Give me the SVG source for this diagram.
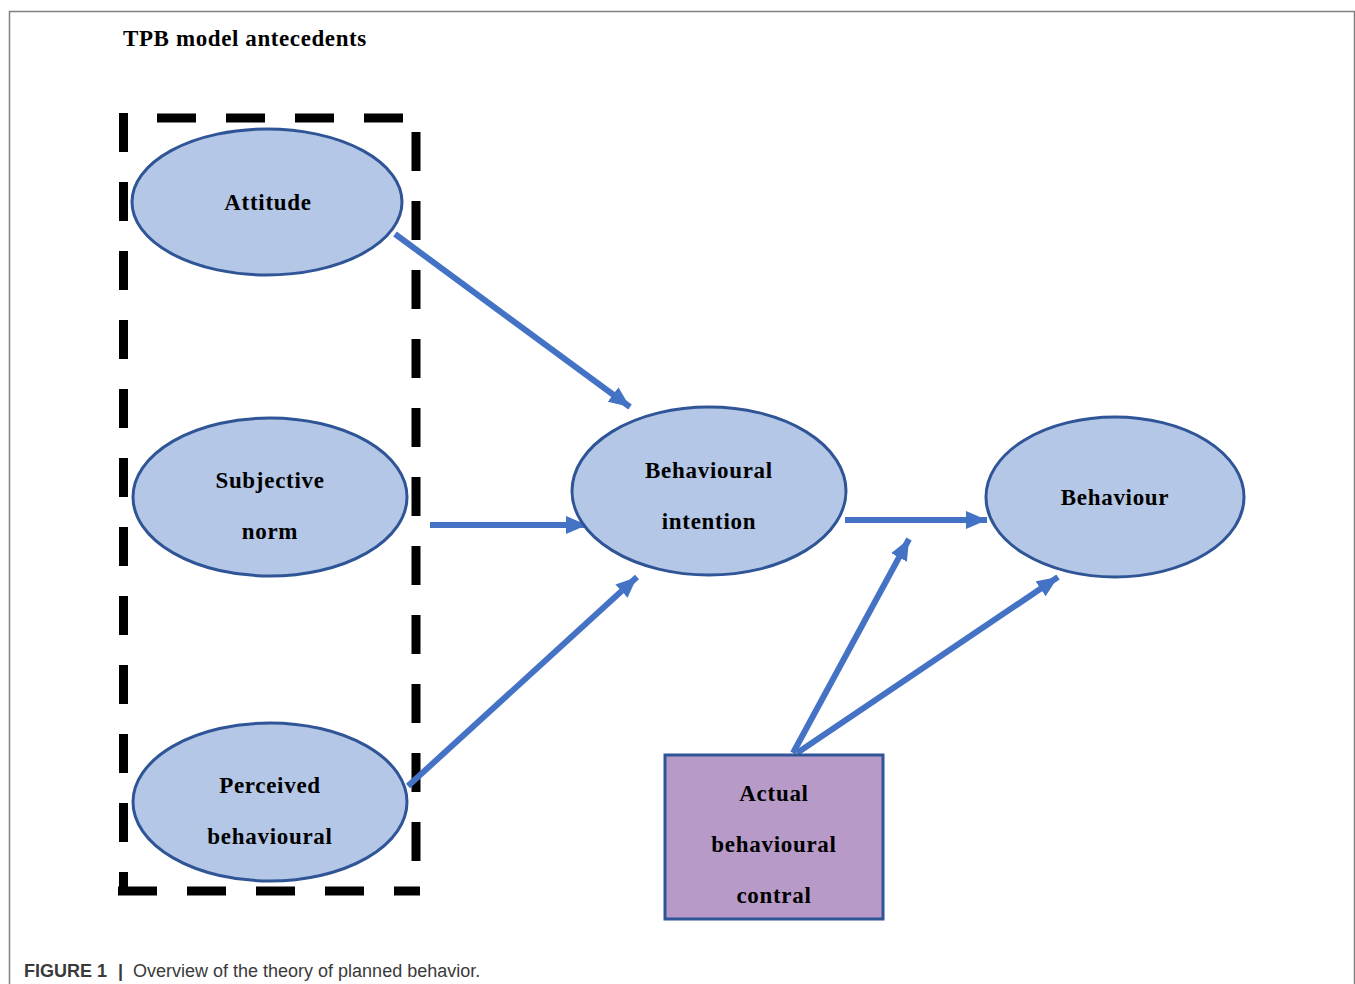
<svg xmlns="http://www.w3.org/2000/svg" width="1355" height="984" viewBox="0 0 1355 984">
<style>
.node ellipse{fill:#B4C7E7;stroke:#2F5597;stroke-width:3}
.node rect{fill:#B79AC8;stroke:#2F5597;stroke-width:3}
.lbl{font-family:"Liberation Serif","Times New Roman",serif;font-weight:bold;font-size:23px;letter-spacing:0.7px;fill:#000;text-anchor:middle}
.conn line{stroke:#4472C4;stroke-width:6;marker-end:url(#ah)}
.dash line{stroke:#000;stroke-width:9;stroke-dasharray:39 30}
.cap{font-family:"Liberation Sans",Arial,sans-serif;font-size:18px;fill:#3a3a3a}
</style>
<defs>
<marker id="ah" markerUnits="userSpaceOnUse" markerWidth="24" markerHeight="20" refX="21" refY="9" orient="auto">
<path d="M0,0 L21,9 L0,18 Z" fill="#4472C4"/>
</marker>
</defs>
<rect width="1355" height="984" fill="#fff"/>
<path d="M9.5,984 V11.5 H1354.5 V984" fill="none" stroke="#808080" stroke-width="1.5"/>
<text x="123" y="46" font-family="Liberation Serif,'Times New Roman',serif" font-weight="bold" font-size="23" letter-spacing="0.6" fill="#000">TPB model antecedents</text>
<g id="antecedent-box" class="dash">
<line x1="123.5" y1="113" x2="123.5" y2="890"/>
<line x1="157" y1="118" x2="416" y2="118"/>
<line x1="416" y1="132" x2="416" y2="890"/>
<line x1="118" y1="891" x2="420" y2="891" stroke-dasharray="24 28 40 29 40 29 40 29 43"/>
</g>
<g id="connectors" class="conn">
<line x1="395" y1="234" x2="630" y2="407"/>
<line x1="430" y1="525" x2="587" y2="525"/>
<line x1="408" y1="786" x2="637" y2="577"/>
<line x1="845" y1="520" x2="987" y2="520"/>
<line x1="793" y1="753" x2="909" y2="539"/>
<line x1="797" y1="753" x2="1058" y2="577"/>
</g>
<g id="attitude" class="node">
<ellipse cx="267" cy="202" rx="135" ry="73"/>
<text class="lbl" x="268" y="210">Attitude</text>
</g>
<g id="subjective-norm" class="node">
<ellipse cx="270" cy="497" rx="137" ry="79"/>
<text class="lbl" x="270" y="488">Subjective</text>
<text class="lbl" x="270" y="539">norm</text>
</g>
<g id="perceived-behavioural" class="node">
<ellipse cx="270" cy="802" rx="137" ry="79"/>
<text class="lbl" x="270" y="793">Perceived</text>
<text class="lbl" x="270" y="844">behavioural</text>
</g>
<g id="behavioural-intention" class="node">
<ellipse cx="709" cy="491" rx="137" ry="84"/>
<text class="lbl" x="709" y="478">Behavioural</text>
<text class="lbl" x="709" y="529">intention</text>
</g>
<g id="behaviour" class="node">
<ellipse cx="1115" cy="497" rx="129" ry="80"/>
<text class="lbl" x="1115" y="505">Behaviour</text>
</g>
<g id="actual-behavioural-control" class="node">
<rect x="665" y="755" width="218" height="164"/>
<text class="lbl" x="774" y="801">Actual</text>
<text class="lbl" x="774" y="852">behavioural</text>
<text class="lbl" x="774" y="903">contral</text>
</g>
<text class="cap" x="24" y="977" font-weight="bold">FIGURE 1</text>
<text class="cap" x="118" y="977" font-weight="bold">|</text>
<text class="cap" x="133" y="977">Overview of the theory of planned behavior.</text>
</svg>
